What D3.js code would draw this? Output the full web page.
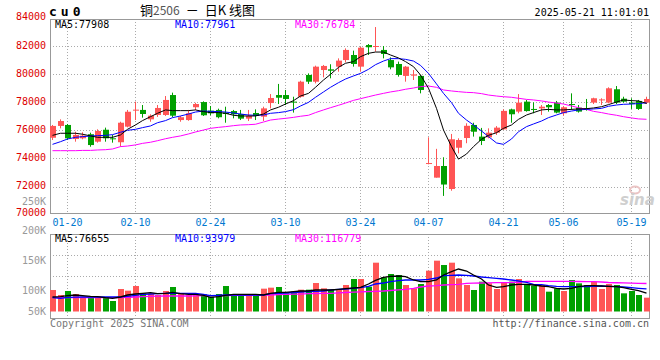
<!DOCTYPE html>
<html>
<head>
<meta charset="utf-8">
<script src="https://cdn.jsdelivr.net/npm/d3@7/dist/d3.min.js"></script>
<style>
  body { margin: 0; background: #fff; }
  svg { display: block; }
  text { font-family: "DejaVu Sans Mono", monospace; }
</style>
</head>
<body>
<svg id="chart" width="660" height="360"></svg>
<script>
// trading days 2025-01-16 .. 2025-05-21
const dates = ["01-16","01-17","01-20","01-21","01-22","01-23","01-24","01-27","02-05","02-06",
  "02-07","02-10","02-11","02-12","02-13","02-14","02-17","02-18","02-19","02-20",
  "02-21","02-24","02-25","02-26","02-27","02-28","03-03","03-04","03-05","03-06",
  "03-07","03-10","03-11","03-12","03-13","03-14","03-17","03-18","03-19","03-20",
  "03-21","03-24","03-25","03-26","03-27","03-28","03-31","04-01","04-02","04-03",
  "04-07","04-08","04-09","04-10","04-11","04-14","04-15","04-16","04-17","04-18",
  "04-21","04-22","04-23","04-24","04-25","04-28","04-29","04-30","05-06","05-07",
  "05-08","05-09","05-12","05-13","05-14","05-15","05-16","05-19","05-20","05-21"];

const open = [75470,76310,76380,75380,75430,75720,75190,76040,75430,75150,
  76260,77420,77450,76780,77090,77090,78510,76730,76730,77640,
  78010,77400,77450,77260,77370,77160,76830,77230,76970,77940,
  78510,78510,78040,78390,79940,79460,80290,80340,80530,81000,
  81360,80530,82070,81950,81720,81000,80720,79870,79890,79870,
  73600,72630,73460,71820,74760,75450,76380,75550,75500,75830,
  76070,77490,77330,78040,77520,77560,77800,77970,77210,77870,
  77610,77560,77970,78130,77970,78920,78250,77970,78090,77970];
const high = [76380,76780,76450,75900,75860,75830,76070,76190,75670,76610,
  77450,78040,77800,77140,77800,78440,78680,77020,77450,77960,
  78060,77730,77540,77680,77450,77450,77450,77490,77680,78580,
  79300,78870,78390,79530,80050,80600,80650,80700,81120,81830,
  81670,81950,82140,83350,82000,81190,80890,80580,80290,79940,
  75500,74680,74080,75740,75430,76500,76540,76170,76140,76300,
  77490,77540,78580,78160,77990,77800,77870,78090,77730,78630,
  77800,78230,78320,78280,79060,79150,78390,78280,78160,78390];
const low = [75310,76140,75310,75190,75360,74830,75120,75190,75120,74830,
  76210,76730,76900,76610,76950,77020,76930,76610,76680,77450,
  77020,77070,76850,76540,76850,76730,76660,76730,76660,77560,
  77870,77800,77260,78320,79300,79340,79770,79700,80170,80840,
  80530,80170,81360,81600,81120,80340,79820,79460,79580,78630,
  73580,72630,71330,71700,74360,75080,75550,74950,75430,75670,
  76020,76540,77210,77330,77210,77090,77330,77210,77040,77450,
  77260,77400,77870,77800,77920,77870,77970,77520,77450,77870];
const close = [76310,76660,75430,75670,75620,74950,75950,75430,75360,76540,
  77320,77470,77160,77040,77590,78160,77040,76930,77210,77870,
  77070,77210,76930,77160,77140,76830,77020,77020,77560,78300,
  78320,78230,77970,79460,79460,80530,80580,80240,80960,81720,
  80720,81880,81910,82000,81430,80480,79940,80530,79980,78870,
  73670,73460,72140,75360,75310,76320,75900,75240,75830,76190,
  77380,77140,77970,77370,77450,77680,77640,77260,77640,77800,
  77330,77490,78280,78200,78990,77970,78040,77870,77520,78230];

const ma5 = [75640,75790,75790,75790,75720,75600,75500,75500,75500,75670,
  76070,76380,76690,76970,77210,77450,77400,77400,77400,77450,
  77330,77260,77260,77210,77070,77020,77020,77020,77160,77450,
  77640,77870,78110,78440,78630,79060,79580,79980,80480,80770,
  80890,81240,81480,81570,81570,81360,81150,80890,80530,79940,
  78990,77560,76020,74840,73950,74310,74840,75360,75640,75830,
  76140,76380,76780,77090,77260,77450,77490,77450,77450,77490,
  77520,77540,77590,77680,77830,78010,78160,78110,78090,77908];
const ma10 = [75000,75190,75380,75500,75550,75590,75620,75640,75690,75860,
  76000,76070,76190,76310,76540,76690,76900,77020,77160,77300,
  77370,77350,77330,77300,77230,77160,77090,77070,77090,77210,
  77260,77330,77470,77730,77990,78350,78730,79060,79390,79650,
  79870,80050,80340,80670,80930,81100,81100,81050,80930,80620,
  80050,79300,78630,77970,77210,76730,76380,75950,75550,75100,
  75000,75380,75900,76260,76450,76660,76900,77090,77260,77370,
  77450,77490,77520,77560,77710,77800,77850,77870,77900,77961];
const ma30 = [74550,74550,74550,74550,74570,74570,74600,74620,74670,74840,
  74880,74960,75070,75150,75260,75400,75500,75600,75740,75880,
  76020,76140,76210,76260,76330,76380,76400,76430,76590,76730,
  76800,76850,76920,77000,77070,77260,77450,77610,77780,77940,
  78130,78250,78390,78510,78630,78730,78820,78920,79010,79110,
  79150,79060,78870,78800,78750,78700,78680,78610,78510,78440,
  78390,78350,78280,78200,78160,78090,78010,77940,77870,77730,
  77610,77490,77350,77260,77160,77070,76970,76880,76810,76784];

const volume = [89700,68800,85500,73000,61900,61900,61900,59100,43800,93800,
  86900,106300,75800,73000,68800,85500,102200,73000,68800,68800,
  71600,61900,73000,106300,71600,68800,68800,66000,95200,99400,
  102200,75800,82700,91000,91000,118800,96600,89700,93800,110500,
  135500,135500,103600,203600,142500,156400,152200,110500,96600,114700,
  170300,212000,193900,203600,138300,110500,89700,124400,117500,93800,
  120200,124400,135500,110500,107700,110500,82700,96600,85500,131400,
  117500,110500,124400,93800,114700,110500,75800,85500,68800,57700];
const volMa5 = [60500,61900,66000,68800,66000,63200,61900,57700,54900,60500,
  68800,73000,75800,78500,74400,75800,79900,74400,71600,71600,
  67400,59100,61900,67400,71600,71600,71600,71600,68800,75800,
  79900,79900,82700,85500,85500,89700,89700,89700,92400,95200,
  98000,100800,114700,130000,142500,146600,148000,145300,131400,124400,
  124400,131400,152200,166100,177200,168900,152200,135500,110500,100800,
  103600,110500,113300,113300,110500,106300,103600,96600,93800,96600,
  103600,107700,107700,106300,104900,103600,99400,92400,86900,76655];
const volMa10 = [57700,54900,59100,59800,60500,60500,60500,60500,60500,61200,
  63200,67400,71600,73000,74400,75800,75800,75800,75800,75100,
  71600,66000,67400,68800,68800,68800,68800,68800,68800,74400,
  75800,77100,79200,81300,82700,84100,85500,89700,92400,93800,
  96600,99400,104900,114700,118800,124400,128600,131400,131400,131400,
  134100,139700,149400,150800,152200,150800,148000,143900,141100,138300,
  135500,131400,127200,121600,113300,111900,107700,104900,103600,103600,
  103600,103600,104900,106300,104900,103600,102200,99400,96600,93979];
const volMa30 = [59100,57700,57700,57700,57700,57700,57700,57700,57700,58400,
  59100,60500,61900,63200,63900,64600,64600,64600,64600,65300,
  66000,66000,66000,66700,67400,67400,67400,68100,68800,68800,
  70200,71600,72300,72300,74400,75100,75800,75800,77800,79200,
  80600,82000,83400,84100,85500,87600,90400,92400,96600,102200,
  106300,107700,110500,111900,113300,117500,118200,118800,119500,120200,
  120200,120900,121600,125800,125800,125800,125800,125800,125800,125800,
  125100,124400,124400,123000,121000,120000,119000,118000,117300,116779];

const priceTicks = [70000,72000,74000,76000,78000,80000,82000,84000];
const volTicks = [50000,100000,150000,200000,250000];
const volTickLabels = ["50K","100K","150K","200K","250K"];
const dateTicks = ["01-20","02-10","02-24","03-10","03-24","04-07","04-21","05-06","05-19"];

var red = "#ff5555", green = "#00a000", gridColor = "#aaaaaa", frameColor = "#999999";
var svg = d3.select("#chart");

var plotLeft = 50, plotRight = 649.5;
var priceTop = 19, priceBottom = 213;
var volTop = 234, volBottom = 318;

var xScale = d3.scaleBand()
  .domain(dates)
  .range([49.5, 650.7])
  .paddingInner(0.2)
  .paddingOuter(0.1);

var bodyW = Math.round(xScale.bandwidth());
function bx(d) { return Math.round(xScale(d)); }
function cx(d) { return bx(d) + bodyW / 2 - 0.5; }

var yPrice = d3.scaleLinear().domain([70000, 84000]).range([214.6, 17.9]);
var yVol = d3.scaleLinear().domain([0, 322000]).range([311.5, 234.3]);
// the vol axis labels in the original sit on their own (odd) scale
var yVolLabel = d3.scaleLinear().domain([100000, 250000]).range([290, 201]);

var rows = dates.map(function(d, i) {
  return { date: d, o: open[i], h: high[i], l: low[i], c: close[i], v: volume[i],
    ma5: ma5[i], ma10: ma10[i], ma30: ma30[i],
    vma5: volMa5[i], vma10: volMa10[i], vma30: volMa30[i] };
});

function upColor(d) { return d.c >= d.o ? red : green; }

// ---------- grids ----------
var grid = svg.append("g").attr("stroke", gridColor).attr("stroke-dasharray", "1,2");

grid.selectAll("line.hgrid")
  .data(priceTicks.filter(function(p) { return p > 70000 && p < 84000; }))
  .enter().append("line")
  .attr("class", "hgrid")
  .attr("x1", plotLeft).attr("x2", plotRight)
  .attr("y1", function(p) { return Math.round(yPrice(p)) + 0.5; })
  .attr("y2", function(p) { return Math.round(yPrice(p)) + 0.5; });

[[priceTop, priceBottom], [volTop, volBottom]].forEach(function(span) {
  grid.append("g").selectAll("line")
    .data(dateTicks)
    .enter().append("line")
    .attr("x1", function(d) { return cx(d); })
    .attr("x2", function(d) { return cx(d); })
    .attr("y1", span[0]).attr("y2", span[1]);
});

var volH = volBottom - volTop;
grid.selectAll("line.vgrid")
  .data([0.25, 0.5])
  .enter().append("line")
  .attr("class", "vgrid")
  .attr("x1", plotLeft).attr("x2", plotRight)
  .attr("y1", function(f) { return Math.round(volTop + volH * f) + 0.5; })
  .attr("y2", function(f) { return Math.round(volTop + volH * f) + 0.5; });

// ---------- frames ----------
var frame = svg.append("g").attr("fill", "none").attr("stroke", frameColor);
frame.append("rect").attr("x", plotLeft + 0.5).attr("y", priceTop + 0.5)
  .attr("width", plotRight - plotLeft - 0.5).attr("height", priceBottom - priceTop);
frame.append("rect").attr("x", plotLeft + 0.5).attr("y", volTop + 0.5)
  .attr("width", plotRight - plotLeft - 0.5).attr("height", volBottom - volTop);

// ---------- watermark ----------
svg.append("ellipse").attr("cx", 635).attr("cy", 190).attr("rx", 5).attr("ry", 3.5)
  .attr("fill", "none").attr("stroke", "#ebc4c4").attr("stroke-width", 2);
svg.append("text").attr("x", 620).attr("y", 205).text("sina")
  .style("font", "italic bold 15px 'DejaVu Sans'").attr("fill", "#cfcfcf");

// ---------- candles ----------
var candles = svg.append("g");
candles.selectAll("line")
  .data(rows)
  .enter().append("line")
  .attr("x1", function(d) { return cx(d.date); })
  .attr("x2", function(d) { return cx(d.date); })
  .attr("y1", function(d) { return yPrice(d.h); })
  .attr("y2", function(d) { return yPrice(d.l); })
  .attr("stroke", upColor);

candles.selectAll("rect")
  .data(rows)
  .enter().append("rect")
  .attr("x", function(d) { return bx(d.date); })
  .attr("width", bodyW)
  .attr("y", function(d) { return yPrice(Math.max(d.o, d.c)); })
  .attr("height", function(d) { return Math.max(1, Math.abs(yPrice(d.o) - yPrice(d.c))); })
  .attr("fill", upColor);

// ---------- price MA lines ----------
function maLine(key, yScale) {
  return d3.line()
    .x(function(d) { return cx(d.date); })
    .y(function(d) { return yScale(d[key]); });
}
[["ma30", "#ff00ff"], ["ma10", "#0000ff"], ["ma5", "#000000"]].forEach(function(s) {
  svg.append("path").datum(rows)
    .attr("d", maLine(s[0], yPrice))
    .attr("fill", "none").attr("stroke", s[1]).attr("stroke-width", 1);
});

// ---------- volume bars ----------
svg.append("g").selectAll("rect")
  .data(rows)
  .enter().append("rect")
  .attr("x", function(d) { return bx(d.date); })
  .attr("width", bodyW)
  .attr("y", function(d) { return yVol(d.v); })
  .attr("height", function(d) { return yVol(0) - yVol(d.v); })
  .attr("fill", upColor);

[["vma30", "#ff00ff"], ["vma10", "#0000ff"], ["vma5", "#000000"]].forEach(function(s) {
  svg.append("path").datum(rows)
    .attr("d", maLine(s[0], yVol))
    .attr("fill", "none").attr("stroke", s[1]).attr("stroke-width", 1.3);
});

// ---------- axis labels ----------
svg.append("g").selectAll("text")
  .data(priceTicks)
  .enter().append("text")
  .attr("x", 46)
  .attr("y", function(p) { return Math.min(yPrice(p), priceBottom) - 1; })
  .attr("dy", "0.35em")
  .attr("text-anchor", "end")
  .attr("font-size", 10)
  .attr("fill", "#dd0000")
  .text(function(p) { return p; });

svg.append("g").selectAll("text")
  .data(volTicks)
  .enter().append("text")
  .attr("x", 46)
  .attr("y", function(v) { return Math.min(yVolLabel(v), 311); })
  .attr("dy", "0.35em")
  .attr("text-anchor", "end")
  .attr("font-size", 10)
  .attr("fill", "#999999")
  .text(function(v, i) { return volTickLabels[i]; });

svg.append("g").selectAll("text")
  .data(dateTicks)
  .enter().append("text")
  .attr("x", function(d) { return Math.min(cx(d), plotRight - 15); })
  .attr("y", 222)
  .attr("dy", "0.35em")
  .attr("text-anchor", "middle")
  .attr("font-size", 10)
  .attr("fill", "#0078d0")
  .text(function(d) { return d; });

// ---------- legends / header ----------
var fmt = d3.format("d");
function legend(yPos, vals) {
  var items = [["MA5:", vals[0], "#000000", 55], ["MA10:", vals[1], "#0000ff", 175], ["MA30:", vals[2], "#ff00ff", 295]];
  svg.append("g").selectAll("text")
    .data(items)
    .enter().append("text")
    .attr("x", function(d) { return d[3]; })
    .attr("y", yPos)
    .attr("dy", "0.35em")
    .attr("font-size", 10)
    .attr("fill", function(d) { return d[2]; })
    .text(function(d) { return d[0] + fmt(d[1]); });
}
var last = rows.length - 1;
legend(24, [ma5[last], ma10[last], ma30[last]]);
legend(238, [volMa5[last], volMa10[last], volMa30[last]]);

svg.append("text").attr("x", 49).attr("y", 15.5)
  .attr("font-size", 13).attr("font-weight", "bold")
  .attr("letter-spacing", 4)
  .text("cu0");

var title = svg.append("text").attr("x", 140).attr("y", 15)
  .style("font-family", "'Noto Sans CJK SC', sans-serif")
  .attr("font-size", 13);
title.append("tspan").text("铜");
title.append("tspan").attr("fill", "#555").attr("font-size", 12).text("2506");
title.append("tspan").attr("dx", 6).text("－");
title.append("tspan").attr("dx", 6).text("日K");
title.append("tspan").attr("dx", 3).text("线图");

svg.append("text").attr("x", 649).attr("y", 16)
  .attr("text-anchor", "end").attr("font-size", 10)
  .text("2025-05-21 11:01:01");

svg.append("text").attr("x", 50).attr("y", 327)
  .attr("font-size", 10).attr("fill", "#777")
  .text("Copyright 2025 SINA.COM");

svg.append("text").attr("x", 649).attr("y", 327)
  .attr("text-anchor", "end").attr("font-size", 10).attr("fill", "#555")
  .text("http://finance.sina.com.cn");
</script>
</body>
</html>
